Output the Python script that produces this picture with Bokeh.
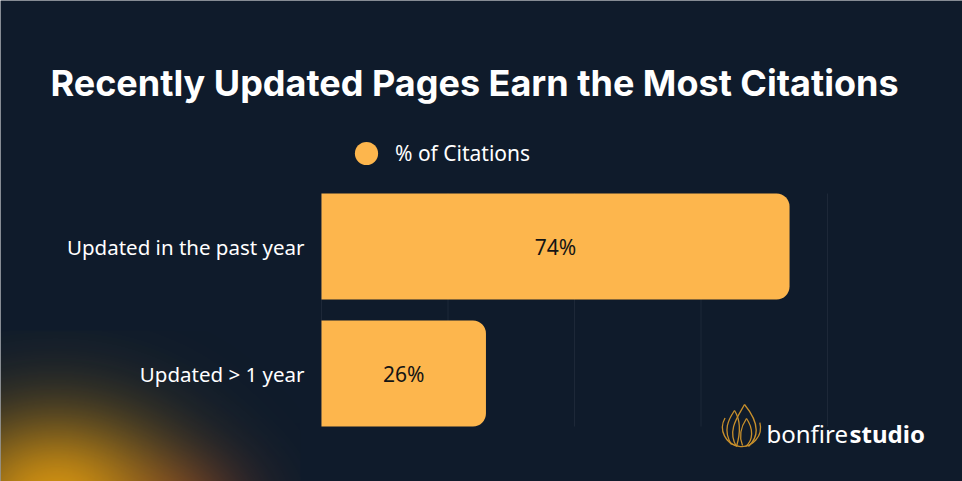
import numpy as np
from bokeh.plotting import figure
from bokeh.models import Range1d, Label, Legend, LegendItem, ColumnDataSource
from bokeh.core.properties import value
from bokeh.embed import file_html
from bokeh.resources import INLINE

# ---------------- data ----------------
categories = ["Updated in the past year", "Updated > 1 year"]
citations = [74, 26]
value_labels = ["74%", "26%"]
grid_ticks = [0, 20, 40, 60, 80]
series_name = "% of Citations"
title_text = "Recently Updated Pages Earn the Most Citations"

# ---------------- style ----------------
BG = "#0f1b2b"
BAR = "#FDB64D"
GRID = "#1d2838"
GOLD = "#C8902C"
W, H = 962, 481
OX, OY = 0, 0   # page offset of the figure

# pixel geometry of the value/category scales (page coordinates)
SX = 6.325      # px per percentage point
SY = 127.0      # px per category step
X0P = 321.0     # page x of 0 %
Y0P = 373.0     # page y of the lowest category centre
BAR_H = 106.0 / SY


def dx(px):
    return (px - X0P) / SX


def dy(py):
    return (Y0P - py) / SY


p = figure(width=W, height=H, output_backend="svg", toolbar_location=None,
           x_range=Range1d(dx(OX), dx(OX + W)), y_range=Range1d(dy(OY + H), dy(OY)),
           min_border=0, min_border_left=0, min_border_right=0,
           min_border_top=0, min_border_bottom=0)
p.background_fill_color = BG
p.border_fill_color = BG
p.outline_line_color = None
p.axis.visible = False
p.grid.visible = False

# ---------------- decorative glow (bottom-left) ----------------
gx0, gx1, gy0, gy1 = OX, 300, 330, OY + H
xs = np.arange(gx0, gx1) + 0.5
ys = np.arange(gy0, gy1) + 0.5
XX, YY = np.meshgrid(xs, ys)
a1 = 0.95 * np.exp(-((XX - 55) / 115.0) ** 2 - ((YY - 500) / 88.0) ** 2)
a2 = 0.5 * np.exp(-((XX - 170) / 75.0) ** 2 - ((YY - 505) / 50.0) ** 2)
A = 1 - (1 - a1) * (1 - a2)
c1 = np.array([220, 152, 16])
c2 = np.array([160, 62, 40])
col = (c1[None, None, :] * a1[..., None] + c2[None, None, :] * (a2 * (1 - a1))[..., None]) / np.maximum(A, 1e-6)[..., None]
rgba = np.zeros(A.shape, dtype=np.uint32)
view = rgba.view(dtype=np.uint8).reshape(A.shape + (4,))
view[..., 0] = np.clip(col[..., 0], 0, 255).astype(np.uint8)
view[..., 1] = np.clip(col[..., 1], 0, 255).astype(np.uint8)
view[..., 2] = np.clip(col[..., 2], 0, 255).astype(np.uint8)
view[..., 3] = np.clip(A * 255, 0, 255).astype(np.uint8)
rgba = np.flipud(rgba)
p.image_rgba(image=[rgba], x=dx(gx0), y=dy(gy1), dw=dx(gx1) - dx(gx0), dh=dy(gy0) - dy(gy1))

# ---------------- grid lines ----------------
n = len(categories)
p.segment(x0=grid_ticks, x1=grid_ticks,
          y0=[-BAR_H / 2] * len(grid_ticks), y1=[(n - 1) + BAR_H / 2] * len(grid_ticks),
          line_color=GRID, line_width=1)

# ---------------- bars ----------------
ypos = [n - 1 - i for i in range(n)]
src = ColumnDataSource(dict(cat=categories, val=citations, lab=value_labels, y=ypos,
                            mid=[v / 2 for v in citations]))
p.hbar(y="y", left=0, right="val", height=BAR_H, source=src,
       fill_color=BAR, line_color=None, border_radius=(0, 13, 13, 0))

p.text(x="mid", y="y", text="lab", source=src, text_align="center", text_baseline="middle",
       text_font=value("Noto Sans"), text_font_size="21px", text_color="#141414")

p.text(x=dx(304), y="y", text="cat", source=src, text_align="right", text_baseline="middle",
       text_font=value("Noto Sans"), text_font_size="20.5px", text_color="#ffffff")

# ---------------- legend ----------------
dot = p.scatter(x=[float("nan")], y=[float("nan")], marker="circle",
                fill_color=BAR, line_color=None)
legend = Legend(items=[LegendItem(label=series_name, renderers=[dot])],
                location=(337 - OX, (OY + H) - 182), orientation="horizontal",
                padding=0, margin=0, spacing=0,
                glyph_width=58, glyph_height=58, label_height=58,
                label_standoff=-11,
                label_text_font="Noto Sans", label_text_font_size="21px",
                label_text_color="#ffffff",
                background_fill_alpha=0, border_line_alpha=0)
p.add_layout(legend, "center")

# ---------------- title ----------------
p.add_layout(Label(x=dx(50), y=dy(82), text=title_text, text_baseline="alphabetic",
                   text_font="Inter", text_font_style="bold", text_font_size="36px",
                   text_color="#ffffff"))

# ---------------- logo ----------------
p.arc(x=dx(741), y=dy(427), radius=19 / SX, start_angle=np.deg2rad(150), end_angle=np.deg2rad(15),
      line_color=GOLD, line_width=1.3)
flames = [
    # (x0,y0, cx0,cy0, cx1,cy1, x1,y1) in page px
    (736, 446, 726, 430, 738, 415, 744, 404),
    (744, 404, 753, 415, 763, 432, 748, 446),
    (731, 444, 722, 430, 728, 419, 734, 410),
    (734, 410, 741, 421, 739, 436, 736, 446),
    (742, 445, 737, 433, 742, 424, 746, 418),
    (746, 418, 753, 428, 753, 440, 745, 446),
]
p.bezier(x0=[dx(f[0]) for f in flames], y0=[dy(f[1]) for f in flames],
         cx0=[dx(f[2]) for f in flames], cy0=[dy(f[3]) for f in flames],
         cx1=[dx(f[4]) for f in flames], cy1=[dy(f[5]) for f in flames],
         x1=[dx(f[6]) for f in flames], y1=[dy(f[7]) for f in flames],
         line_color=GOLD, line_width=1.3)
p.add_layout(Label(x=dx(766), y=dy(433), text="bonfire", text_baseline="alphabetic",
                   text_font="Noto Sans", text_font_size="24px", text_color="#ffffff"))
p.add_layout(Label(x=dx(849), y=dy(433), text="studio", text_baseline="alphabetic",
                   text_font="Noto Sans", text_font_style="bold", text_font_size="24px",
                   text_color="#ffffff"))

open("out.html", "w").write(file_html(p, INLINE))
